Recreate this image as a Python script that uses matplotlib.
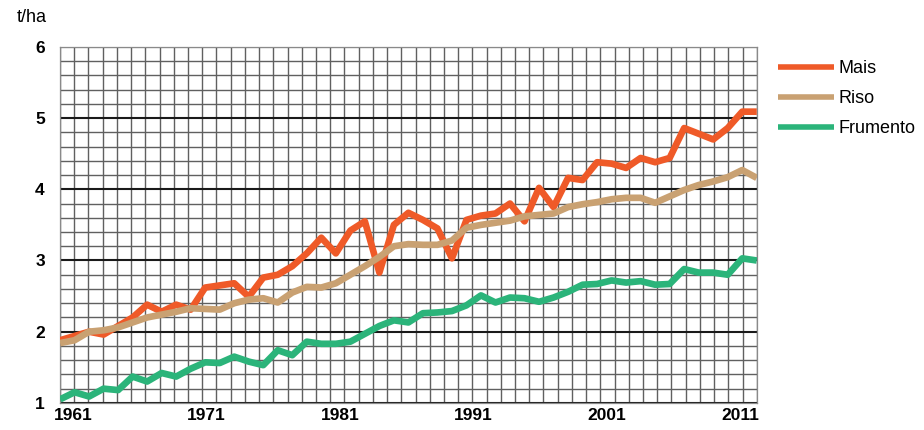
import numpy as np
import matplotlib
matplotlib.use("Agg")
import matplotlib.pyplot as plt

plt.rcParams['font.family'] = ['Liberation Sans', 'DejaVu Sans']

# yields in t/ha, one value per year
years = list(range(1961, 2010))
mais = [1.88, 1.94, 2.00, 1.96, 2.08, 2.20, 2.38, 2.28, 2.38, 2.31,
        2.62, 2.65, 2.68, 2.49, 2.76, 2.80, 2.92, 3.10, 3.32, 3.10,
        3.42, 3.55, 2.83, 3.50, 3.67, 3.57, 3.45, 3.03, 3.57, 3.63,
        3.66, 3.80, 3.55, 4.02, 3.75, 4.16, 4.13, 4.38, 4.36, 4.30,
        4.44, 4.38, 4.44, 4.86, 4.78, 4.70, 4.86, 5.09, 5.09]
riso = [1.84, 1.88, 2.00, 2.02, 2.06, 2.13, 2.20, 2.24, 2.28, 2.33,
        2.32, 2.31, 2.40, 2.45, 2.47, 2.41, 2.55, 2.63, 2.62, 2.68,
        2.80, 2.92, 3.05, 3.20, 3.23, 3.22, 3.22, 3.28, 3.46, 3.50,
        3.53, 3.56, 3.62, 3.64, 3.66, 3.75, 3.79, 3.82, 3.86, 3.88,
        3.88, 3.81, 3.90, 3.99, 4.06, 4.11, 4.17, 4.27, 4.16]
frumento = [1.05, 1.15, 1.09, 1.20, 1.18, 1.37, 1.30, 1.42, 1.37, 1.48,
            1.57, 1.56, 1.65, 1.58, 1.53, 1.74, 1.67, 1.86, 1.83, 1.83,
            1.86, 1.97, 2.08, 2.16, 2.13, 2.26, 2.27, 2.29, 2.37, 2.51,
            2.41, 2.48, 2.47, 2.42, 2.48, 2.56, 2.66, 2.67, 2.72, 2.69,
            2.71, 2.66, 2.67, 2.88, 2.83, 2.83, 2.80, 3.03, 3.00]

series_names = ['Mais', 'Riso', 'Frumento']
series_colors = ['#ef5a28', '#c9a172', '#2bb47a']
xtick_labels = ['1961', '1971', '1981', '1991', '2001', '2011']
ytick_values = [1, 2, 3, 4, 5, 6]

fig = plt.figure(figsize=(9.24, 4.30), dpi=100)
ax = fig.add_axes([0.065, 0.063, 0.754, 0.828])

x0, x1 = years[0], years[-1]
ax.set_xlim(x0, x1)
ax.set_ylim(1, 6)

# graph-paper grid
for xv in np.linspace(x0, x1, 50):
    ax.axvline(xv, color='#606060', lw=1.0, zorder=1)
for yv in np.arange(1, 6.01, 0.2):
    major = abs(yv - round(yv)) < 1e-6
    ax.axhline(yv, color='#1a1a1a' if major else '#606060',
               lw=1.5 if major else 1.0, zorder=1)

for vals, name, col in zip([mais, riso, frumento], series_names, series_colors):
    ax.plot(years, vals, color=col, lw=4.8, label=name, zorder=3,
            solid_joinstyle='round', solid_capstyle='butt')

for s in ax.spines.values():
    s.set_color('#8a8a8a')
    s.set_linewidth(0.9)

ax.set_yticks(ytick_values)
ax.set_yticklabels([str(v) for v in ytick_values], fontweight='bold', fontsize=12.5)
# labels in the original sit at even spacing along the axis
label_pos = [x0 + (0.0187 + 0.1914 * k) * (x1 - x0) for k in range(len(xtick_labels))]
ax.set_xticks(label_pos)
ax.set_xticklabels(xtick_labels, fontweight='bold', fontsize=12.5)
ax.tick_params(axis='both', length=0)
ax.tick_params(axis='y', pad=11)
ax.tick_params(axis='x', pad=4)

fig.text(17 / 924, 1 - 17 / 430, 't/ha', fontsize=13, va='center', ha='left')

leg = ax.legend(loc='upper left', bbox_to_anchor=(1.03, 0.962), frameon=False,
                fontsize=13, handlelength=3.1, handletextpad=0.25,
                labelspacing=0.72, borderpad=0, borderaxespad=0)
for h in leg.get_lines():
    h.set_linewidth(4.0)

fig.savefig('out.png', dpi=100)
